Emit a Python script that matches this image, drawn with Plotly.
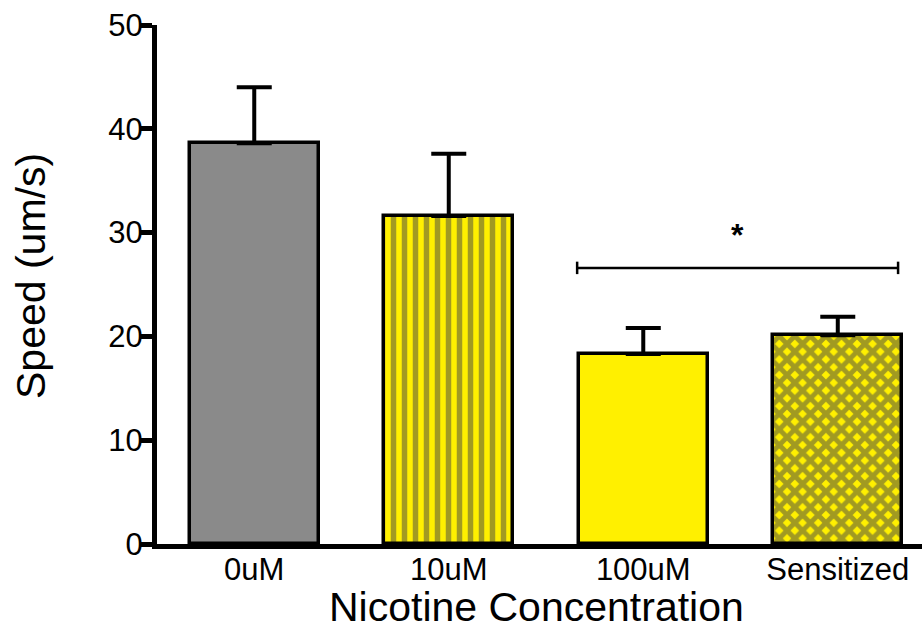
import plotly.graph_objects as go

# Mean swimming speed per nicotine treatment, with upper SEM bars
categories = ["0uM", "10uM", "100uM", "Sensitized"]
speed_mean = [38.6, 31.6, 18.3, 20.1]
speed_err = [5.4, 6.0, 2.5, 1.8]
y_ticks = [0, 10, 20, 30, 40, 50]

fill_colors = ["#8a8a8a", "#fff000", "#fff000", "#fff000"]
pattern_shapes = ["", "|", "", "x"]
pattern_solidity = [0.0, 0.5, 0.0, 0.7]

# Significance bracket between the 100uM and Sensitized groups
sig_from, sig_to = 2, 3
sig_level = 26.6
sig_label = "*"

FONT = "Liberation Sans, Arial, sans-serif"

fig = go.Figure()
fig.add_trace(go.Bar(
    x=list(range(len(categories))),
    y=speed_mean,
    width=0.665,
    marker=dict(
        color=fill_colors,
        line=dict(color="black", width=3.5),
        pattern=dict(shape=pattern_shapes, fgcolor="black", bgcolor=fill_colors,
                     size=11, solidity=pattern_solidity, fillmode="overlay"),
    ),
    error_y=dict(type="data", symmetric=False, array=speed_err,
                 arrayminus=[0] * len(speed_err),
                 color="black", thickness=4, width=17.5),
))

x0 = sig_from - 0.34
x1 = sig_to + 0.31
fig.add_shape(type="line", x0=x0, x1=x1, y0=sig_level, y1=sig_level,
              line=dict(color="black", width=2.5))
for xe in (x0, x1):
    fig.add_shape(type="line", x0=xe, x1=xe, y0=sig_level - 0.6, y1=sig_level + 0.6,
                  line=dict(color="black", width=2.5))
fig.add_annotation(x=(x0 + x1) / 2, y=sig_level + 3.2, text="<b>" + sig_label + "</b>",
                   showarrow=False, font=dict(size=32, color="black"))

# Axis titles placed as paper-anchored labels
fig.add_annotation(text="Nicotine Concentration", xref="paper", yref="paper",
                   x=0.496, y=0, yshift=-87, xanchor="center", yanchor="bottom",
                   borderpad=0, showarrow=False,
                   font=dict(size=41, color="black", family=FONT))
fig.add_annotation(text="Speed (um/s)", xref="paper", yref="paper",
                   x=0, y=0.5164, xshift=-126, xanchor="center", yanchor="middle",
                   textangle=-90, showarrow=False,
                   font=dict(size=41, color="black", family=FONT))

fig.update_layout(
    width=922, height=631,
    margin=dict(l=157, r=0, t=25, b=87),
    plot_bgcolor="white", paper_bgcolor="white",
    font=dict(family=FONT, color="black"),
    showlegend=False,
    bargap=0,
)
fig.update_xaxes(
    range=[-0.5, 3.433],
    tickmode="array", tickvals=list(range(len(categories))), ticktext=categories,
    ticks="", showgrid=False, zeroline=False,
    showline=True, linecolor="black", linewidth=5,
    tickfont=dict(size=31), ticklabelstandoff=-6,
)
fig.update_yaxes(
    range=[0, 50],
    tickmode="array", tickvals=y_ticks,
    ticks="outside", ticklen=11, tickwidth=5, tickcolor="black",
    showgrid=False, zeroline=False,
    showline=True, linecolor="black", linewidth=5,
    tickfont=dict(size=31), ticklabelstandoff=-8,
)

fig.write_html("out.html")
